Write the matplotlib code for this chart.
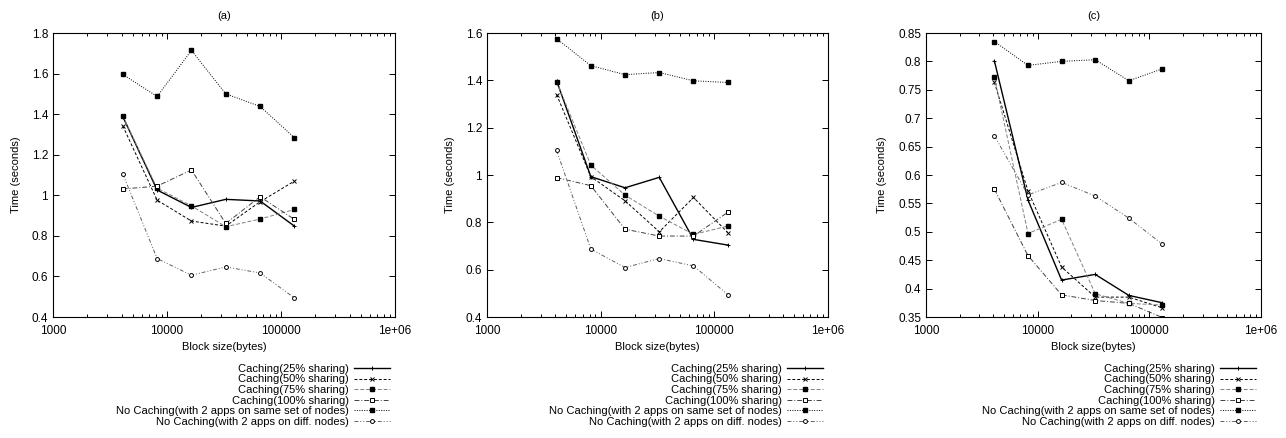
import matplotlib
matplotlib.use("Agg")
import matplotlib.pyplot as plt
from matplotlib.ticker import FixedLocator, LogLocator, NullFormatter, FormatStrFormatter, MultipleLocator

plt.rcParams['font.family'] = ['Liberation Sans', 'DejaVu Sans']

block_sizes = [4096, 8192, 16384, 32768, 65536, 131072]

series_labels = [
    "Caching(25% sharing)",
    "Caching(50% sharing)",
    "Caching(75% sharing)",
    "Caching(100% sharing)",
    "No Caching(with 2 apps on same set of nodes)",
    "No Caching(with 2 apps on diff. nodes)",
]

panel_titles = ["(a)", "(b)", "(c)"]

# Panel (a)
a_25 = [1.388, 1.026, 0.940, 0.980, 0.972, 0.848]
a_50 = [1.342, 0.976, 0.873, 0.848, 0.968, 1.070]
a_75 = [1.390, 1.035, 0.948, 0.845, 0.883, 0.930]
a_100 = [1.031, 1.045, 1.125, 0.861, 0.993, 0.881]
a_same = [1.596, 1.487, 1.714, 1.500, 1.438, 1.284]
a_diff = [1.105, 0.688, 0.606, 0.647, 0.617, 0.494]

# Panel (b)
b_25 = [1.398, 0.993, 0.946, 0.990, 0.728, 0.704]
b_50 = [1.340, 0.993, 0.891, 0.760, 0.905, 0.757]
b_75 = [1.395, 1.042, 0.915, 0.826, 0.749, 0.784]
b_100 = [0.989, 0.955, 0.771, 0.742, 0.742, 0.842]
b_same = [1.576, 1.462, 1.424, 1.433, 1.398, 1.391]
b_diff = [1.104, 0.687, 0.609, 0.647, 0.616, 0.495]

# Panel (c)
c_25 = [0.801, 0.556, 0.415, 0.425, 0.388, 0.375]
c_50 = [0.763, 0.572, 0.438, 0.385, 0.385, 0.366]
c_75 = [0.772, 0.497, 0.522, 0.391, 0.374, 0.371]
c_100 = [0.575, 0.458, 0.389, 0.379, 0.374, 0.349]
c_same = [0.835, 0.793, 0.800, 0.803, 0.766, 0.787]
c_diff = [0.669, 0.565, 0.587, 0.563, 0.524, 0.478]

panels = [
    [a_25, a_50, a_75, a_100, a_same, a_diff],
    [b_25, b_50, b_75, b_100, b_same, b_diff],
    [c_25, c_50, c_75, c_100, c_same, c_diff],
]
y_limits = [(0.4, 1.8), (0.4, 1.6), (0.35, 0.85)]
y_steps = [0.2, 0.2, 0.05]
x_tick_values = [1000, 10000, 100000, 1000000]
x_tick_labels = ["1000", "10000", "100000", "1e+06"]

styles = [
    dict(color='black', linestyle='-', linewidth=1.0, marker='+', markersize=3.5,
         markeredgewidth=0.7),
    dict(color='black', linestyle=(0, (3, 2)), linewidth=0.7, marker='x', markersize=2.8,
         markeredgewidth=0.7),
    dict(color='#808080', linestyle=(0, (4, 2)), linewidth=0.7, marker='s', markersize=2.6,
         markerfacecolor='black', markeredgecolor='black'),
    dict(color='#404040', linestyle=(0, (5, 2, 1, 2)), linewidth=0.7, marker='s', markersize=3.2,
         markerfacecolor='white', markeredgecolor='black', markeredgewidth=0.7),
    dict(color='black', linestyle=(0, (1, 1.5)), linewidth=0.7, marker='s', markersize=3.2,
         markerfacecolor='black', markeredgecolor='black'),
    dict(color='#606060', linestyle=(0, (4, 2, 1, 2, 1, 2)), linewidth=0.7, marker='o',
         markersize=2.8, markerfacecolor='white', markeredgecolor='black',
         markeredgewidth=0.7),
]

fig = plt.figure(figsize=(12.86, 4.38), dpi=100)
fs = 7.5
axes_rects = [
    [53 / 1286, 1 - 317 / 438, 342 / 1286, 284 / 438],
    [487 / 1286, 1 - 317 / 438, 341 / 1286, 284 / 438],
    [926 / 1286, 1 - 317 / 438, 335 / 1286, 284 / 438],
]

for i, data in enumerate(panels):
    ax = fig.add_axes(axes_rects[i])
    for vals, lab, st in zip(data, series_labels, styles):
        ax.plot(block_sizes, vals, label=lab, **st)
    ax.set_xscale('log')
    ax.set_xlim(1000, 1000000)
    ax.set_ylim(*y_limits[i])
    ax.xaxis.set_major_locator(FixedLocator(x_tick_values))
    ax.set_xticklabels(x_tick_labels)
    ax.xaxis.set_minor_locator(LogLocator(base=10, subs=range(2, 10)))
    ax.xaxis.set_minor_formatter(NullFormatter())
    ax.yaxis.set_major_locator(MultipleLocator(y_steps[i]))
    ax.yaxis.set_major_formatter(FormatStrFormatter('%g'))
    ax.tick_params(which='both', direction='in', top=True, right=True,
                   labelsize=fs + 1, width=0.7)
    ax.tick_params(axis='x', which='major', pad=6)
    ax.tick_params(which='major', length=4)
    ax.tick_params(which='minor', length=2)
    for sp in ax.spines.values():
        sp.set_linewidth(0.8)
    ax.set_title(panel_titles[i], fontsize=fs + 0.5, pad=10)
    ax.set_xlabel("Block size(bytes)", fontsize=fs + 0.5, labelpad=3)
    ax.set_ylabel("Time (seconds)", fontsize=fs + 0.5, labelpad=8)
    ax.legend(loc='upper right', bbox_to_anchor=(0.985, -0.165), frameon=False,
              markerfirst=False, fontsize=fs + 0.5, handlelength=3.2,
              handletextpad=0.5, labelspacing=0.05, borderpad=0, borderaxespad=0)

fig.savefig("out.png", dpi=100)
